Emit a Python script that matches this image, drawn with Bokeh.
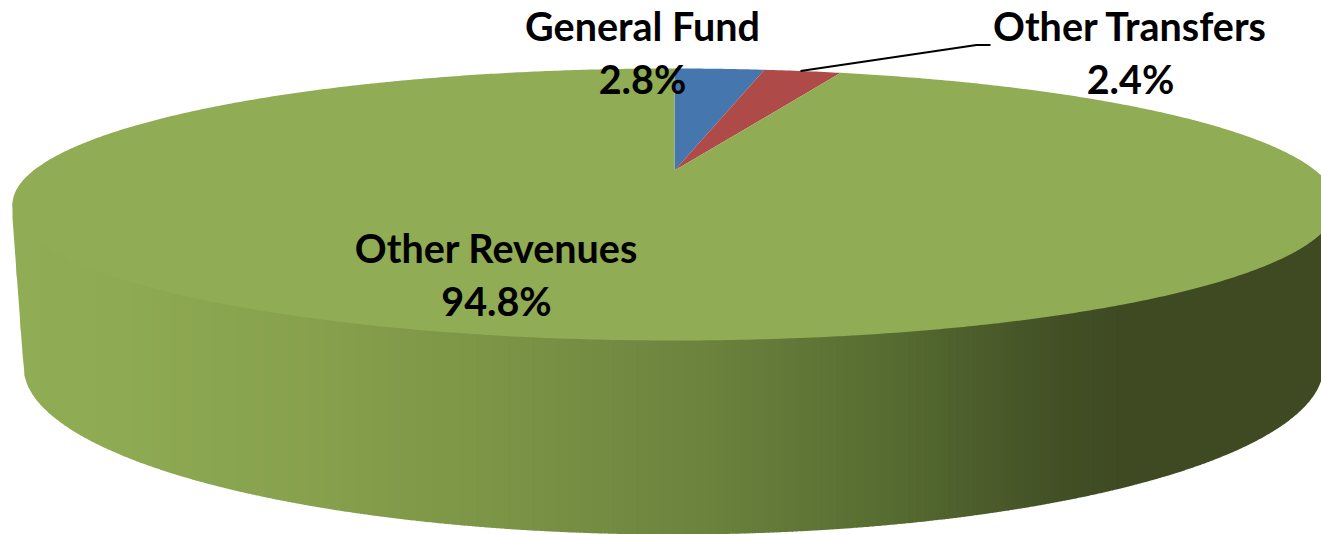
import numpy as np
from bokeh.plotting import figure
from bokeh.embed import file_html
from bokeh.resources import INLINE
from bokeh.core.properties import value

categories = ["General Fund", "Other Transfers", "Other Revenues"]
shares = [2.8, 2.4, 94.8]
slice_colors = ["#4676AE", "#AE4B48", "#90AC54"]
label_x = [642, 1130, 496]
label_y = [25, 25, 247]

# chart geometry in reference pixels
APEX_X, APEX_Y = 674, 170
FAR, NEAR = 102, 170
P = (NEAR - FAR) / (NEAR + FAR)
A = FAR * (1 + P)
TOP_CY, TOP_A, TOP_B = 204, 662, 136
BOT_CX, BOT_CY, BOT_A, BOT_B = 673, 366, 650, 168
B = TOP_A / 1.0328

def project(t):
    u, v = np.sin(t), np.cos(t)
    d = 1 + P * v
    return APEX_X + B * u / d, APEX_Y - A * v / d

p = figure(width=1321, height=534, output_backend="svg", toolbar_location=None,
           x_range=(0, 1321), y_range=(534, 0), min_border=0,
           x_axis_location=None, y_axis_location=None, outline_line_color=None,
           background_fill_color="white", border_fill_color="white")
p.grid.visible = False

# side wall, shaded from left to right
stops_x = [12, 120, 300, 500, 700, 900, 1060, 1120, 1340]
stops_rgb = [(144, 172, 84), (142, 170, 82), (135, 161, 77), (123, 148, 70),
             (108, 131, 62), (85, 106, 48), (66, 79, 37), (63, 74, 34), (63, 74, 34)]
edges = np.arange(12, 1336, 4.0)
xs_side, ys_side, cols = [], [], []

def top_edge(x):
    return TOP_CY + TOP_B * np.sqrt(np.clip(1 - ((x - APEX_X) / TOP_A) ** 2, 0, 1))

def bottom_edge(x):
    dx = np.abs(x - BOT_CX)
    if dx <= BOT_A:
        return BOT_CY + BOT_B * np.sqrt(1 - (dx / BOT_A) ** 2)
    return TOP_CY + (BOT_CY - TOP_CY) * (TOP_A - dx) / (TOP_A - BOT_A)

for x0 in edges:
    x1 = min(x0 + 4.6, 1336)
    mid = np.linspace(x0, x1, 3)
    xs_side.append(list(mid) + list(mid[::-1]))
    ys_side.append([top_edge(m) - 3 for m in mid] + [bottom_edge(m) for m in mid[::-1]])
    c = [int(round(np.interp(x0, stops_x, [s[i] for s in stops_rgb]))) for i in range(3)]
    cols.append("#%02x%02x%02x" % tuple(c))
p.patches(xs_side, ys_side, fill_color=cols, line_color=None)

# top face: slices from their shares
start = 0.0
for share, colour in zip(shares, slice_colors):
    stop = start + share / sum(shares) * 2 * np.pi
    t = np.linspace(start, stop, max(4, int(share * 8)))
    xx, yy = project(t)
    p.patch([APEX_X] + list(xx), [APEX_Y] + list(yy), fill_color=colour, line_color=None)
    start = stop

# leader line for Other Transfers
p.line([800, 976, 990], [70.5, 44.5, 44.5], line_color="black", line_width=2)

# labels
font = value("Lato")
for name, share, lx, ly in zip(categories, shares, label_x, label_y):
    p.text([lx], [ly], text=[name], text_font=font, text_font_style="bold",
           text_font_size="39.5px", text_color="black", text_align="center", text_baseline="middle")
    p.text([lx], [ly + 52.5], text=[f"{share}%"], text_font=font, text_font_style="bold",
           text_font_size="39.5px", text_color="black", text_align="center", text_baseline="middle")

open("out.html", "w").write(file_html(p, INLINE))
